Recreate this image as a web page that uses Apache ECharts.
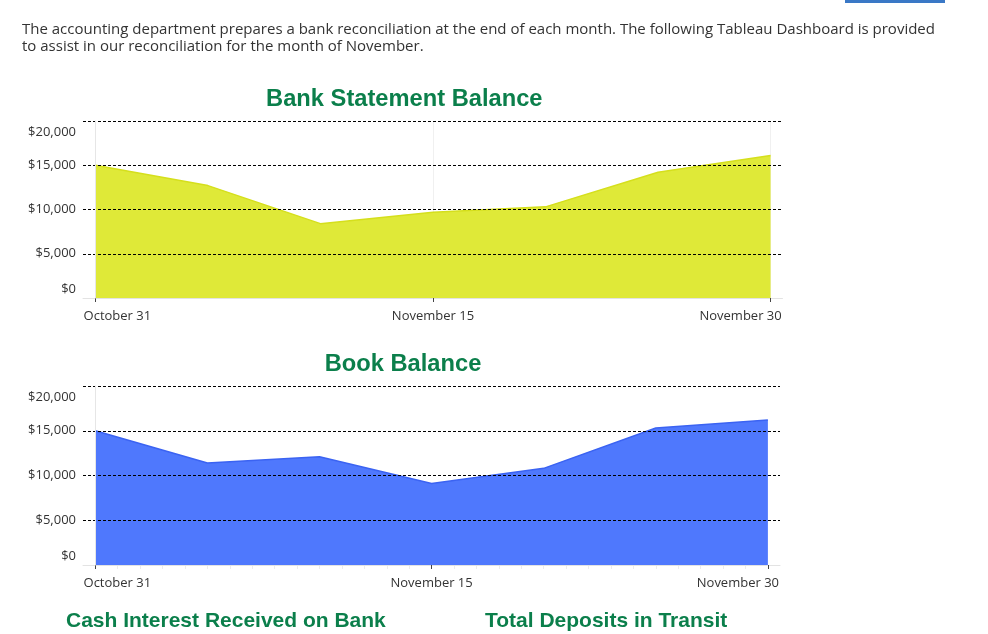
<!DOCTYPE html>
<html><head><meta charset="utf-8">
<script src="https://cdn.jsdelivr.net/npm/echarts@6/dist/echarts.min.js"></script>
<style>html,body{margin:0;padding:0;background:#fff}#c{width:988px;height:634px}</style>
</head><body><div id="c"></div>
<script>
// ---- data ----
const days = [0, 5, 10, 15, 20, 25, 30];               // days after October 31
const bankBalance = [15000, 12700, 8400, 9700, 10300, 14200, 16100];
const bookBalance = [15000, 11400, 12100, 9100, 10800, 15300, 16200];
const tickDays = [0, 15, 30];
const tickLabels = ['October 31', 'November 15', 'November 30'];
const dailyTicks = [0,1,2,3,4,5,6,7,8,9,10,11,12,13,14,15,16,17,18,19,20,21,22,23,24,25,26,27,28,29,30];
const yTickValues = [0, 5000, 10000, 15000, 20000];
const yTickLabels = ['$0', '$5,000', '$10,000', '$15,000', '$20,000'];
const introLines = [
  'The accounting department prepares a bank reconciliation at the end of each month. The following Tableau Dashboard is provided',
  'to assist in our reconciliation for the month of November.'
];
const titles = ['Bank Statement Balance', 'Book Balance', 'Cash Interest Received on Bank', 'Total Deposits in Transit'];

const GREEN = '#0b7f4b';
const LBL = "'Open Sans', sans-serif";

function yLabel(v) {
  const i = yTickValues.indexOf(v);
  const s = i >= 0 ? yTickLabels[i] : '';
  if (i === yTickValues.length - 1) return '{t|' + s + '}';
  if (i === 0) return '{b|' + s + '}';
  return s;
}
function xLabel(v) {
  const i = tickDays.indexOf(v);
  const s = i >= 0 ? tickLabels[i] : '';
  if (i === 0) return '{l|' + s + '}';
  if (i === tickDays.length - 1) return '{r|' + s + '}';
  return s;
}
const lblStyle = {color: '#333', fontFamily: LBL, fontSize: 13};

function makeY(gi) {
  return {
    type: 'value', gridIndex: gi, min: 0, max: 20000, interval: 5000, z: 3,
    axisLine: {show: true, lineStyle: {color: '#e6e6e6'}},
    axisTick: {show: false},
    axisLabel: Object.assign({margin: 7, formatter: yLabel,
      rich: {t: Object.assign({padding: [22, 0, 0, 0]}, lblStyle), b: Object.assign({padding: [0, 0, 17, 0]}, lblStyle)}}, lblStyle),
    splitLine: {show: true, showMinLine: false, lineStyle: {color: '#000', width: 1, type: [3, 2]}}
  };
}
function makeX(gi, min, max, vlines, margin) {
  return {
    type: 'value', gridIndex: gi, min: min, max: max, position: 'bottom', z: -3,
    axisLine: {show: true, onZero: false, lineStyle: {color: '#e3e3e3'}},
    axisTick: {show: true, customValues: tickDays, length: 4, lineStyle: {color: '#444'}},
    axisLabel: Object.assign({customValues: tickDays, margin: margin, formatter: xLabel,
      rich: {l: Object.assign({padding: [0, 0, 0, 44]}, lblStyle), r: Object.assign({padding: [0, 60, 0, 0]}, lblStyle)}}, lblStyle),
    splitLine: {show: vlines, lineStyle: {color: '#f0f0f0'}}
  };
}

const chart = echarts.init(document.getElementById('c'), null, {renderer: 'canvas'});
chart.setOption({
  animation: false,
  backgroundColor: '#fff',
  grid: [
    {left: 83, top: 121, width: 699.5, height: 177},
    {left: 83, top: 386, width: 697, height: 179}
  ],
  xAxis: [
    makeX(0, -0.55, 30.53, true, 12),
    makeX(1, -0.55, 30.54, false, 11.5),
    {type: 'value', gridIndex: 1, min: -0.55, max: 30.54, position: 'bottom', z: -4,
     axisLine: {show: false}, axisLabel: {show: false}, splitLine: {show: false},
     axisTick: {show: true, customValues: dailyTicks, length: 4, lineStyle: {color: '#ececec'}}}
  ],
  yAxis: [makeY(0), makeY(1)],
  series: [
    {type: 'line', xAxisIndex: 0, yAxisIndex: 0, symbol: 'none', z: -1,
     data: days.map((d, i) => [d, bankBalance[i]]),
     lineStyle: {color: '#d5df1c', width: 1.5},
     areaStyle: {color: '#dfe938', opacity: 1}},
    {type: 'line', xAxisIndex: 1, yAxisIndex: 1, symbol: 'none', z: -1,
     data: days.map((d, i) => [d, bookBalance[i]]),
     lineStyle: {color: '#3b63f2', width: 1.5},
     areaStyle: {color: '#4f78fd', opacity: 1}}
  ],
  graphic: [
    {type: 'rect', shape: {x: 845, y: 0, width: 100, height: 3}, style: {fill: '#3a78c6'}},
    {type: 'text', x: 22, y: 29.5, style: {text: introLines[0], font: "15px 'Open Sans', sans-serif", fill: '#333', textVerticalAlign: 'middle'}},
    {type: 'text', x: 22, y: 46.5, style: {text: introLines[1], font: "15px 'Open Sans', sans-serif", fill: '#333', textVerticalAlign: 'middle'}},
    {type: 'text', x: 404.3, y: 99.5, style: {text: titles[0], font: "bold 23.7px 'Liberation Sans', Arial, sans-serif", fill: GREEN, textAlign: 'center', textVerticalAlign: 'middle'}},
    {type: 'text', x: 403, y: 364, style: {text: titles[1], font: "bold 23.7px 'Liberation Sans', Arial, sans-serif", fill: GREEN, textAlign: 'center', textVerticalAlign: 'middle'}},
    {type: 'text', x: 66, y: 621.5, style: {text: titles[2], font: "bold 21px 'Liberation Sans', Arial, sans-serif", fill: GREEN, textVerticalAlign: 'middle'}},
    {type: 'text', x: 485, y: 621, style: {text: titles[3], font: "bold 21px 'Liberation Sans', Arial, sans-serif", fill: GREEN, textVerticalAlign: 'middle'}}
  ]
});
</script></body></html>
